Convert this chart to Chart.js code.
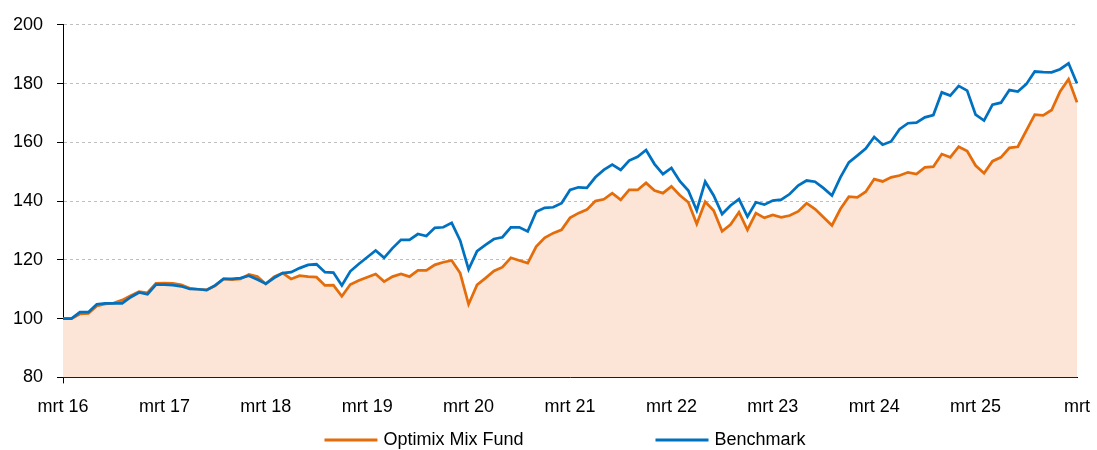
<!DOCTYPE html>
<html>
<head>
<meta charset="utf-8">
<script src="https://cdn.jsdelivr.net/npm/chart.js@4.4.1/dist/chart.umd.min.js"></script>
<style>
  html, body { margin: 0; padding: 0; background: #fff; }
  #wrap { width: 1097px; height: 450px; }
</style>
</head>
<body>
<div id="wrap"><canvas id="chart" width="1097" height="450"></canvas></div>
<script>
// maandelijkse waarden, start mrt 16 = 100
const monthNames = ['mrt', 'apr', 'mei', 'jun', 'jul', 'aug', 'sep', 'okt', 'nov', 'dec', 'jan', 'feb'];
const yearTicks = ['mrt 16', 'mrt 17', 'mrt 18', 'mrt 19', 'mrt 20', 'mrt 21', 'mrt 22', 'mrt 23', 'mrt 24', 'mrt 25', 'mrt'];
const yTicks = [80, 100, 120, 140, 160, 180, 200];

const fund = [
    100, 100, 101.6, 101.8, 104.3, 105, 105.3, 106.3, 107.8, 109.2, 108.8, 112,
    112.1, 112, 111.5, 110.3, 110, 109.8, 111.2, 113.5, 113.3, 113.5, 115, 114.3,
    111.8, 114.3, 115.5, 113.5, 114.6, 114.3, 114.1, 111.3, 111.4, 107.6, 111.6, 113,
    114.1, 115.2, 112.6, 114.3, 115.2, 114.3, 116.4, 116.4, 118.3, 119.2, 119.8, 115.5,
    104.9, 111.5, 113.8, 116.2, 117.5, 120.7, 119.8, 118.9, 124.5, 127.5, 129.1, 130.2,
    134.3, 135.9, 137.1, 140, 140.6, 142.7, 140.4, 143.8, 143.8, 146.2, 143.6, 142.7,
    145, 142, 139.6, 132.2, 139.8, 136.8, 129.7, 132, 136.2, 130.2, 135.9, 134.3,
    135.3, 134.5, 135.1, 136.5, 139.3, 137.3, 134.5, 131.7, 137.3, 141.5, 141.3, 143.2,
    147.5, 146.7, 148.1, 148.7, 149.8, 149.2, 151.5, 151.7, 156, 154.9, 158.5, 157,
    152.1, 149.5, 153.6, 154.9, 158.1, 158.5, 164, 169.4, 169.2, 171, 177.3, 181.5,
    173.6
];

const benchmark = [
    100, 100, 102.2, 102.2, 104.9, 105.2, 105.2, 105.2, 107.3, 108.9, 108.3, 111.6,
    111.6, 111.4, 111, 110.1, 110, 109.7, 111.3, 113.5, 113.5, 113.8, 114.6, 113.3,
    111.9, 113.9, 115.5, 115.8, 117.2, 118.3, 118.5, 115.8, 115.7, 111.3, 116.1, 118.6,
    120.9, 123.2, 120.7, 124, 126.8, 126.8, 128.8, 128.1, 130.9, 131.1, 132.6, 126.6,
    116.8, 123, 125.1, 127.1, 127.7, 131.1, 131.1, 129.7, 136.4, 137.7, 137.9, 139.3,
    143.8, 144.7, 144.5, 148.1, 150.6, 152.4, 150.6, 153.8, 155.1, 157.4, 152.6, 149.2,
    151.3, 146.8, 143.6, 136.8, 146.6, 141.9, 135.6, 138.5, 140.7, 134.7, 139.6, 138.8,
    140.2, 140.5, 142.4, 145.3, 147, 146.6, 144.4, 141.9, 148.1, 153.2, 155.5, 157.9,
    161.8, 159.2, 160.3, 164.5, 166.5, 166.7, 168.5, 169.3, 177, 175.9, 179.2, 177.6,
    169.4, 167.4, 172.8, 173.5, 177.8, 177.3, 179.8, 184.1, 183.9, 183.8, 184.9, 186.9,
    180
];

const seriesNames = ['Optimix Mix Fund', 'Benchmark'];
const orange = '#E46C0A';
const blue = '#0070C0';
const fontFamily = '"Liberation Sans", Arial, sans-serif';

const labels = fund.map((v, i) => monthNames[i % 12] + ' ' + (16 + Math.floor((i + 2) / 12)));

// eigen legenda onder de grafiek (lijnstukje + tekst)
const bottomLegend = {
    id: 'bottomLegend',
    afterDraw(chart) {
        const ctx = chart.ctx;
        const items = [
            { text: seriesNames[0], color: orange },
            { text: seriesNames[1], color: blue }
        ];
        ctx.save();
        ctx.font = '18px ' + fontFamily;
        const lineW = 53, gapText = 6, gapItem = 132;
        let total = 0;
        items.forEach((it, i) => {
            it.w = ctx.measureText(it.text).width;
            total += lineW + gapText + it.w + (i > 0 ? gapItem : 0);
        });
        let x = 565 - total / 2;
        const y = 440;
        items.forEach(it => {
            ctx.strokeStyle = it.color;
            ctx.lineWidth = 3;
            ctx.beginPath();
            ctx.moveTo(x, y);
            ctx.lineTo(x + lineW, y);
            ctx.stroke();
            ctx.fillStyle = '#000';
            ctx.textBaseline = 'middle';
            ctx.fillText(it.text, x + lineW + gapText, y);
            x += lineW + gapText + it.w + gapItem;
        });
        ctx.restore();
    }
};

new Chart(document.getElementById('chart'), {
    type: 'line',
    data: {
        labels: labels,
        datasets: [
            {
                label: seriesNames[0],
                data: fund,
                borderColor: orange,
                backgroundColor: '#FCE4D6',
                borderWidth: 2.75,
                pointRadius: 0,
                fill: 'start',
                tension: 0,
                order: 1
            },
            {
                label: seriesNames[1],
                data: benchmark,
                borderColor: blue,
                backgroundColor: blue,
                borderWidth: 2.75,
                pointRadius: 0,
                fill: false,
                tension: 0,
                order: 0
            }
        ]
    },
    options: {
        responsive: false,
        animation: false,
        layout: { padding: { top: 24, right: 20, bottom: 19, left: 0 } },
        plugins: {
            legend: { display: false },
            tooltip: { enabled: false },
            filler: { drawTime: 'beforeDatasetsDraw' }
        },
        scales: {
            x: {
                offset: false,
                afterFit: scale => { scale.paddingLeft = 0; scale.paddingRight = 0; },
                grid: {
                    drawOnChartArea: false,
                    tickLength: 6,
                    color: ctx => (ctx.index % 12 === 0 ? '#000' : 'rgba(0,0,0,0)')
                },
                border: { color: '#000', width: 1 },
                ticks: {
                    autoSkip: false,
                    maxRotation: 0,
                    padding: 13,
                    color: '#000',
                    font: { family: fontFamily, size: 18 },
                    callback: (val, i) => (i % 12 === 0 ? yearTicks[i / 12] : null)
                }
            },
            y: {
                min: yTicks[0],
                max: yTicks[yTicks.length - 1],
                afterFit: scale => { scale.width = 63; },
                grid: {
                    color: '#BFBFBF',
                    tickColor: '#000',
                    tickLength: 6,
                    lineWidth: 1
                },
                border: { color: '#000', width: 1, dash: [3, 3] },
                ticks: {
                    stepSize: 20,
                    padding: 14,
                    color: '#000',
                    font: { family: fontFamily, size: 18 }
                }
            }
        }
    },
    plugins: [bottomLegend]
});
</script>
</body>
</html>
